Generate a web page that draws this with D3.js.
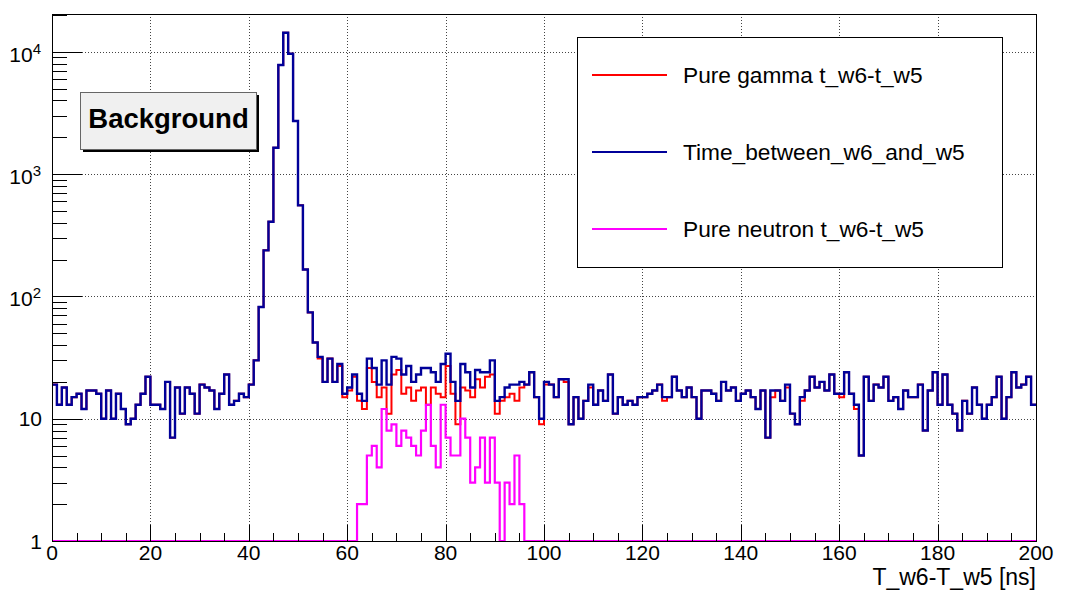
<!DOCTYPE html>
<html><head><meta charset="utf-8">
<script src="https://cdn.jsdelivr.net/npm/d3@7"></script>
<style>
body{margin:0;background:#fff;}
svg{display:block;font-family:"Liberation Sans",Arial,Helvetica,sans-serif;}
</style>
</head><body>
<svg id="chart" width="1066" height="590"></svg>
<script>
// ---------------- data ----------------
const xTickLabels = [0, 20, 40, 60, 80, 100, 120, 140, 160, 180, 200];
const yDecades = [1, 10, 100, 1000, 10000];
const xTitle = "T_w6-T_w5 [ns]";
const boxTitle = "Background";
const seriesNames = ["Pure gamma t_w6-t_w5", "Time_between_w6_and_w5", "Pure neutron t_w6-t_w5"];
const seriesColors = ["#ff0000", "#000099", "#ff00ff"];

// bins: 200 bins of 1 ns from 0 to 200
const binLow = d3.range(0, 200, 1);

const totalCounts = [
  19,13,18,13,15,16,12,17,17,16,
  10,17,10,16,12,9,10,13,16,22,
  13,13,12,20,7,18,11,18,16,11,
  19,18,17,12,16,23,13,14,16,15,
  19,30,82,238,408,1643,7790,14300,9650,2714,
  555,166,74,42,32,20,31,20,28,16,
  18,23,16,14,31,26,19,30,19,32,
  31,23,27,20,23,26,26,24,20,28,
  34,20,14,28,24,18,25,24,24,30,
  14,15,18,19,19,20,19,24,15,10,
  20,19,15,21,21,9,15,10,14,19,
  13,17,14,23,11,15,13,14,13,15,
  15,16,17,19,15,15,22,17,15,18,
  15,10,17,17,16,14,20,17,18,14,
  16,17,15,12,17,7,17,17,14,19,
  11,9,15,17,22,18,20,17,23,16,
  16,24,16,13,5,22,14,19,18,22,
  14,15,12,17,15,15,19,8,17,24,
  13,23,13,11,8,14,11,18,13,10,
  13,15,22,10,15,24,18,19,22,13
];

const gammaCounts = [
  19,13,18,13,15,16,12,17,17,16,
  10,17,10,16,12,9,10,13,16,22,
  13,13,12,20,7,18,11,18,16,11,
  19,18,17,12,16,23,13,14,16,15,
  19,30,82,238,408,1643,7790,14300,9650,2714,
  555,166,74,42,31,20,31,20,27,15,
  17,22,14,12,26,20,15,18,11,23,
  25,16,18,14,17,18,13,18,16,15,
  27,16,9,18,17,15,21,18,22,23,
  11,14,15,16,14,18,19,24,15,9,
  19,19,15,21,20,9,15,10,14,18,
  13,17,14,23,11,15,13,14,13,15,
  15,16,17,19,14,15,22,17,15,18,
  15,10,17,17,16,14,20,17,18,14,
  16,17,15,12,17,7,15,17,14,18,
  11,9,14,17,22,18,20,17,23,16,
  15,24,16,12,5,22,14,19,18,22,
  14,15,12,17,15,15,19,8,17,24,
  13,23,13,11,8,14,11,18,13,10,
  13,15,22,10,15,24,18,19,22,13
];

const neutronCounts = [
  0,0,0,0,0,0,0,0,0,0,
  0,0,0,0,0,0,0,0,0,0,
  0,0,0,0,0,0,0,0,0,0,
  0,0,0,0,0,0,0,0,0,0,
  0,0,0,0,0,0,0,0,0,0,
  0,0,0,0,0,0,0,0,0,0,
  0,0,2,2,5,6,4,12,8,9,
  6,8,7,6,5,8,13,6,4,13,
  7,5,5,10,7,3,4,7,3,7,
  3,0,3,2,5,2,0,0,0,0,
  0,0,0,0,0,0,0,0,0,0,
  0,0,0,0,0,0,0,0,0,0,
  0,0,0,0,0,0,0,0,0,0,
  0,0,0,0,0,0,0,0,0,0,
  0,0,0,0,0,0,0,0,0,0,
  0,0,0,0,0,0,0,0,0,0,
  0,0,0,0,0,0,0,0,0,0,
  0,0,0,0,0,0,0,0,0,0,
  0,0,0,0,0,0,0,0,0,0,
  0,0,0,0,0,0,0,0,0,0
];

// ---------------- layout ----------------
const svg = d3.select("#chart");
const F = {left: 52, right: 1036, top: 14, bottom: 541};
const yMin = 1, yMax = 20370;
const x = d3.scaleLinear().domain([0, 200]).range([F.left, F.right]);
const y = d3.scaleLog().domain([yMin, yMax]).range([F.bottom, F.top]);

svg.append("rect").attr("width", 1066).attr("height", 590).attr("fill", "#fff");

svg.append("clipPath").attr("id", "frameClip")
  .append("rect").attr("x", F.left).attr("y", F.top - 2)
  .attr("width", F.right - F.left).attr("height", F.bottom - F.top + 3);

// grid (dotted)
const grid = svg.append("g").attr("stroke", "#444").attr("stroke-width", 1)
  .attr("stroke-dasharray", "1,2").attr("fill", "none");
grid.selectAll("line.gx").data(xTickLabels.filter(d => d > 0 && d < 200)).join("line")
  .attr("x1", d => Math.round(x(d)) + 0.5).attr("x2", d => Math.round(x(d)) + 0.5)
  .attr("y1", F.top).attr("y2", F.bottom);
grid.selectAll("line.gy").data(yDecades.filter(d => d > 1)).join("line")
  .attr("x1", F.left).attr("x2", F.right)
  .attr("y1", d => Math.round(y(d)) + 0.5).attr("y2", d => Math.round(y(d)) + 0.5);

// histograms
const series = [gammaCounts, totalCounts, neutronCounts];
const widths = [2.0, 2.4, 2.2];
const line = d3.line()
  .x(d => x(d[0]))
  .y(d => y(Math.max(yMin, d[1])))
  .curve(d3.curveStepAfter);
const plot = svg.append("g").attr("clip-path", "url(#frameClip)");
series.forEach((vals, i) => {
  const pts = binLow.map((b, k) => [b, vals[k]]);
  pts.push([200, vals[vals.length - 1]]);
  plot.append("path").attr("d", line(pts))
    .attr("fill", "none").attr("stroke", seriesColors[i])
    .attr("stroke-width", widths[i]).attr("stroke-linejoin", "miter");
});

// frame
svg.append("rect").attr("x", F.left + 0.5).attr("y", F.top + 0.5)
  .attr("width", F.right - F.left).attr("height", F.bottom - F.top)
  .attr("fill", "none").attr("stroke", "#000").attr("stroke-width", 1);

// x ticks
const ax = svg.append("g").attr("stroke", "#000").attr("stroke-width", 1);
const xMinor = d3.range(0, 201, 5);
ax.selectAll("line.xt").data(xMinor).join("line")
  .attr("x1", d => Math.round(x(d)) + 0.5).attr("x2", d => Math.round(x(d)) + 0.5)
  .attr("y1", F.bottom).attr("y2", d => F.bottom - (d % 20 === 0 ? 16 : 8));

// y ticks
const yMinorVals = [];
[1, 10, 100, 1000, 10000].forEach(dec => {
  for (let m = 1; m <= 9; m++) { const v = dec * m; if (v <= yMax) yMinorVals.push(v); }
});
ax.selectAll("line.yt").data(yMinorVals).join("line")
  .attr("x1", F.left).attr("x2", d => F.left + (yDecades.includes(d) ? 30 : 15))
  .attr("y1", d => Math.round(y(d)) + 0.5).attr("y2", d => Math.round(y(d)) + 0.5);

// x labels
svg.append("g").selectAll("text").data(xTickLabels).join("text")
  .attr("x", d => x(d)).attr("y", 560)
  .attr("text-anchor", "middle").attr("font-size", 21).attr("fill", "#000")
  .text(d => d);

// x title
svg.append("text").attr("x", F.right).attr("y", 585).attr("text-anchor", "end")
  .attr("font-size", 23).text(xTitle);

// y labels
const yl = svg.append("g").attr("fill", "#000");
yDecades.forEach(d => {
  const exp = Math.round(Math.log10(d));
  if (exp <= 1) {
    yl.append("text").attr("x", 42).attr("y", y(d) + 7.5).attr("text-anchor", "end")
      .attr("font-size", 21).text(String(d));
  } else {
    const t = yl.append("text").attr("x", 41).attr("y", y(d) + 10).attr("text-anchor", "end")
      .attr("font-size", 21);
    t.append("tspan").text("10");
    t.append("tspan").attr("font-size", 15).attr("dy", -8).text(String(exp));
  }
});

// "Background" box with shadow
const bx = 80, by = 92, bw = 176, bh = 57;
svg.append("rect").attr("x", bx + 3).attr("y", by + 3).attr("width", bw).attr("height", bh).attr("fill", "#000");
svg.append("rect").attr("x", bx + 0.5).attr("y", by + 0.5).attr("width", bw).attr("height", bh)
  .attr("fill", "#f0f0f0").attr("stroke", "#666").attr("stroke-width", 1);
svg.append("text").attr("x", bx + bw / 2 + 0.5).attr("y", by + 36)
  .attr("text-anchor", "middle").attr("font-size", 27.5).attr("font-weight", "bold")
  .text(boxTitle);

// legend
const lg = svg.append("g");
lg.append("rect").attr("x", 577.5).attr("y", 37.5).attr("width", 425).attr("height", 230)
  .attr("fill", "#fff").attr("stroke", "#000").attr("stroke-width", 1);
const legY = [75, 152, 229];
seriesNames.forEach((n, i) => {
  lg.append("line").attr("x1", 592).attr("x2", 667).attr("y1", legY[i]).attr("y2", legY[i])
    .attr("stroke", seriesColors[i]).attr("stroke-width", 2.2);
  lg.append("text").attr("x", 683).attr("y", legY[i] + 8).attr("font-size", 22.7).text(n);
});
</script>
</body></html>
